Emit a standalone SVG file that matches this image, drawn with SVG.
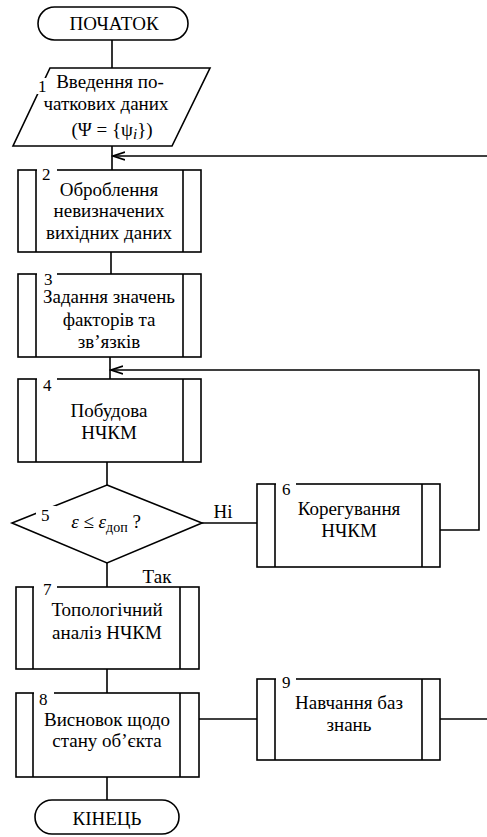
<svg xmlns="http://www.w3.org/2000/svg" width="487" height="837" viewBox="0 0 487 837" font-family="'Liberation Serif', 'Times New Roman', serif">
<style>
.s{fill:#fff;stroke:#000;stroke-width:1.6}
.c{fill:none;stroke:#000;stroke-width:1.6}
.t{font-family:'Liberation Serif','Times New Roman',serif;font-size:19px;fill:#000;text-anchor:middle}
.n{font-family:'Liberation Serif','Times New Roman',serif;font-size:17px;fill:#000}
.w{fill:#fff;stroke:none}
</style>
<defs>
<marker id="ar" markerWidth="14" markerHeight="10" refX="12" refY="5" orient="auto" markerUnits="userSpaceOnUse">
<path d="M0,1 L12,5 L0,9" fill="none" stroke="#000" stroke-width="1.8"/>
</marker>
</defs>
<g id="connectors">
<line class="c" x1="112" y1="40" x2="112" y2="68"/>
<line class="c" x1="112" y1="146" x2="112" y2="170"/>
<line class="c" x1="487" y1="156" x2="113" y2="156" marker-end="url(#ar)"/>
<line class="c" x1="111" y1="252" x2="111" y2="274"/>
<line class="c" x1="110" y1="357" x2="110" y2="379"/>
<polyline class="c" points="440,530 479,530 479,370 111,370" marker-end="url(#ar)"/>
<line class="c" x1="107" y1="462" x2="107" y2="485"/>
<line class="c" x1="202" y1="523" x2="257" y2="523"/>
<line class="c" x1="107" y1="563" x2="107" y2="587"/>
<line class="c" x1="107" y1="669" x2="107" y2="693"/>
<line class="c" x1="199" y1="719" x2="257" y2="719"/>
<line class="c" x1="440" y1="719" x2="487" y2="719"/>
<line class="c" x1="107" y1="777" x2="107" y2="800"/>
</g>
<g id="start">
<rect class="s" x="38" y="7" width="150" height="33" rx="16.5"/>
<text class="t" x="114" y="30">ПОЧАТОК</text>
</g>
<g id="n1">
<polygon class="s" points="50,68 210,68 172,146 13,146"/>
<rect class="w" x="37" y="78" width="10" height="16"/>
<text class="n" x="38" y="92">1</text>
<text class="t" x="110" y="88">Введення по-</text>
<text class="t" x="106" y="110">чаткових даних</text>
<text class="t" x="112" y="136">(Ψ = {ψ<tspan font-style="italic" font-size="15" dy="3">i</tspan><tspan dy="-3">})</tspan></text>
</g>
<g id="n2">
<rect class="s" x="18" y="170" width="183" height="82"/>
<line class="c" x1="36" y1="170" x2="36" y2="252"/>
<line class="c" x1="183" y1="170" x2="183" y2="252"/>
<rect class="w" x="37" y="165" width="20" height="8"/>
<text class="n" x="42" y="180">2</text>
<text class="t" x="109" y="196">Оброблення</text>
<text class="t" x="109" y="217">невизначених</text>
<text class="t" x="109" y="239">вихідних даних</text>
</g>
<g id="n3">
<rect class="s" x="18" y="274" width="183" height="83"/>
<line class="c" x1="36" y1="274" x2="36" y2="357"/>
<line class="c" x1="183" y1="274" x2="183" y2="357"/>
<rect class="w" x="37" y="269" width="20" height="8"/>
<text class="n" x="44" y="285">3</text>
<text class="t" x="109" y="303">Задання значень</text>
<text class="t" x="109" y="326">факторів та</text>
<text class="t" x="109" y="348">зв’язків</text>
</g>
<g id="n4">
<rect class="s" x="18" y="379" width="183" height="83"/>
<line class="c" x1="36" y1="379" x2="36" y2="462"/>
<line class="c" x1="183" y1="379" x2="183" y2="462"/>
<rect class="w" x="37" y="374" width="20" height="8"/>
<text class="n" x="43" y="391">4</text>
<text class="t" x="109" y="417">Побудова</text>
<text class="t" x="109" y="439">НЧКМ</text>
</g>
<g id="n5">
<polygon class="s" points="107,485 202,523 107,563 12,523"/>
<rect class="w" x="36" y="506" width="20" height="12"/>
<text class="n" x="41" y="521">5</text>
<text class="t" x="106" y="528"><tspan font-style="italic">ε</tspan> ≤ <tspan font-style="italic">ε</tspan><tspan font-size="14" dy="4">доп</tspan><tspan dy="-4"> ?</tspan></text>
<text class="t" x="223" y="518">Ні</text>
<text class="t" x="157" y="583">Так</text>
</g>
<g id="n6">
<rect class="s" x="257" y="484" width="183" height="83"/>
<line class="c" x1="275" y1="484" x2="275" y2="567"/>
<line class="c" x1="422" y1="484" x2="422" y2="567"/>
<rect class="w" x="276" y="479" width="20" height="8"/>
<text class="n" x="282" y="495">6</text>
<text class="t" x="349" y="515">Корегування</text>
<text class="t" x="349" y="537">НЧКМ</text>
</g>
<g id="n7">
<rect class="s" x="16" y="587" width="183" height="82"/>
<line class="c" x1="33" y1="587" x2="33" y2="669"/>
<line class="c" x1="180" y1="587" x2="180" y2="669"/>
<rect class="w" x="34" y="582" width="23" height="8"/>
<text class="n" x="43" y="595">7</text>
<text class="t" x="107" y="616">Топологічний</text>
<text class="t" x="107" y="639">аналіз НЧКМ</text>
</g>
<g id="n8">
<rect class="s" x="16" y="693" width="183" height="84"/>
<line class="c" x1="33" y1="693" x2="33" y2="777"/>
<line class="c" x1="180" y1="693" x2="180" y2="777"/>
<rect class="w" x="34" y="688" width="20" height="8"/>
<text class="n" x="39" y="705">8</text>
<text class="t" x="107" y="726">Висновок щодо</text>
<text class="t" x="107" y="747">стану об’єкта</text>
</g>
<g id="n9">
<rect class="s" x="257" y="679" width="183" height="81"/>
<line class="c" x1="275" y1="679" x2="275" y2="760"/>
<line class="c" x1="422" y1="679" x2="422" y2="760"/>
<rect class="w" x="276" y="674" width="20" height="8"/>
<text class="n" x="282" y="688">9</text>
<text class="t" x="349" y="709">Навчання баз</text>
<text class="t" x="349" y="731">знань</text>
</g>
<g id="end">
<rect class="s" x="35" y="800" width="144" height="34" rx="17"/>
<text class="t" x="107" y="825">КІНЕЦЬ</text>
</g>
</svg>
